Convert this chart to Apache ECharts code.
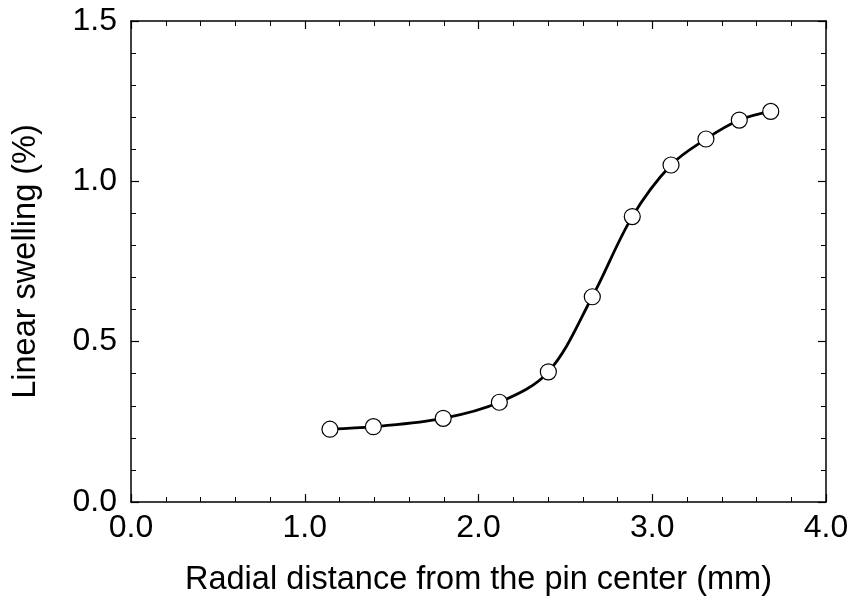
<!DOCTYPE html>
<html><head><meta charset="utf-8">
<script src="https://cdn.jsdelivr.net/npm/echarts@6/dist/echarts.min.js"></script>
<style>html,body{margin:0;padding:0;background:#fff}#c{width:856px;height:603px}</style>
</head><body><div id="c"></div>
<script>
const xValues = [1.145, 1.395, 1.797, 2.120, 2.402, 2.655, 2.885, 3.108, 3.309, 3.501, 3.682];
const yValues = [0.227, 0.235, 0.261, 0.311, 0.406, 0.640, 0.890, 1.051, 1.132, 1.191, 1.218];
const xTitle = 'Radial distance from the pin center (mm)';
const yTitle = 'Linear swelling (%)';

const font = 'Liberation Sans, Arial, sans-serif';
function axisBase(extra){
  return Object.assign({
    axisLine: {show: true, onZero: false, lineStyle: {color: '#000', width: 1.5}},
    axisTick: {show: true, inside: true, length: 8, lineStyle: {color: '#000', width: 1.2}},
    minorTick: {show: true, splitNumber: 5, length: 5, lineStyle: {color: '#000', width: 1}},
    splitLine: {show: false},
    minorSplitLine: {show: false}
  }, extra);
}
const chart = echarts.init(document.getElementById('c'));
chart.setOption({
  animation: false,
  backgroundColor: '#fff',
  grid: {left: 131, right: 30, top: 21, bottom: 101},
  xAxis: [
    axisBase({type: 'value', min: 0, max: 4, interval: 1, position: 'bottom',
      name: xTitle, nameLocation: 'middle', nameGap: 62,
      nameTextStyle: {fontFamily: font, fontSize: 32.5, color: '#000'},
      axisLabel: {fontFamily: font, fontSize: 32, color: '#000', margin: 10, formatter: v => v.toFixed(1)}}),
    axisBase({type: 'value', min: 0, max: 4, interval: 1, position: 'top', axisLabel: {show: false}})
  ],
  yAxis: [
    axisBase({type: 'value', min: 0, max: 1.5, interval: 0.5, position: 'left',
      name: yTitle, nameLocation: 'middle', nameGap: 88,
      nameTextStyle: {fontFamily: font, fontSize: 32.5, color: '#000'},
      axisLabel: {fontFamily: font, fontSize: 32, color: '#000', margin: 14, formatter: v => v.toFixed(1)}}),
    axisBase({type: 'value', min: 0, max: 1.5, interval: 0.5, position: 'right', axisLabel: {show: false}})
  ],
  series: [{
    type: 'line',
    data: xValues.map((x, i) => [x, yValues[i]]),
    smooth: 0.35,
    symbol: 'circle',
    symbolSize: 16,
    lineStyle: {color: '#000', width: 2.8},
    itemStyle: {color: '#fff', borderColor: '#000', borderWidth: 1.2},
    z: 3
  }]
});
</script></body></html>
